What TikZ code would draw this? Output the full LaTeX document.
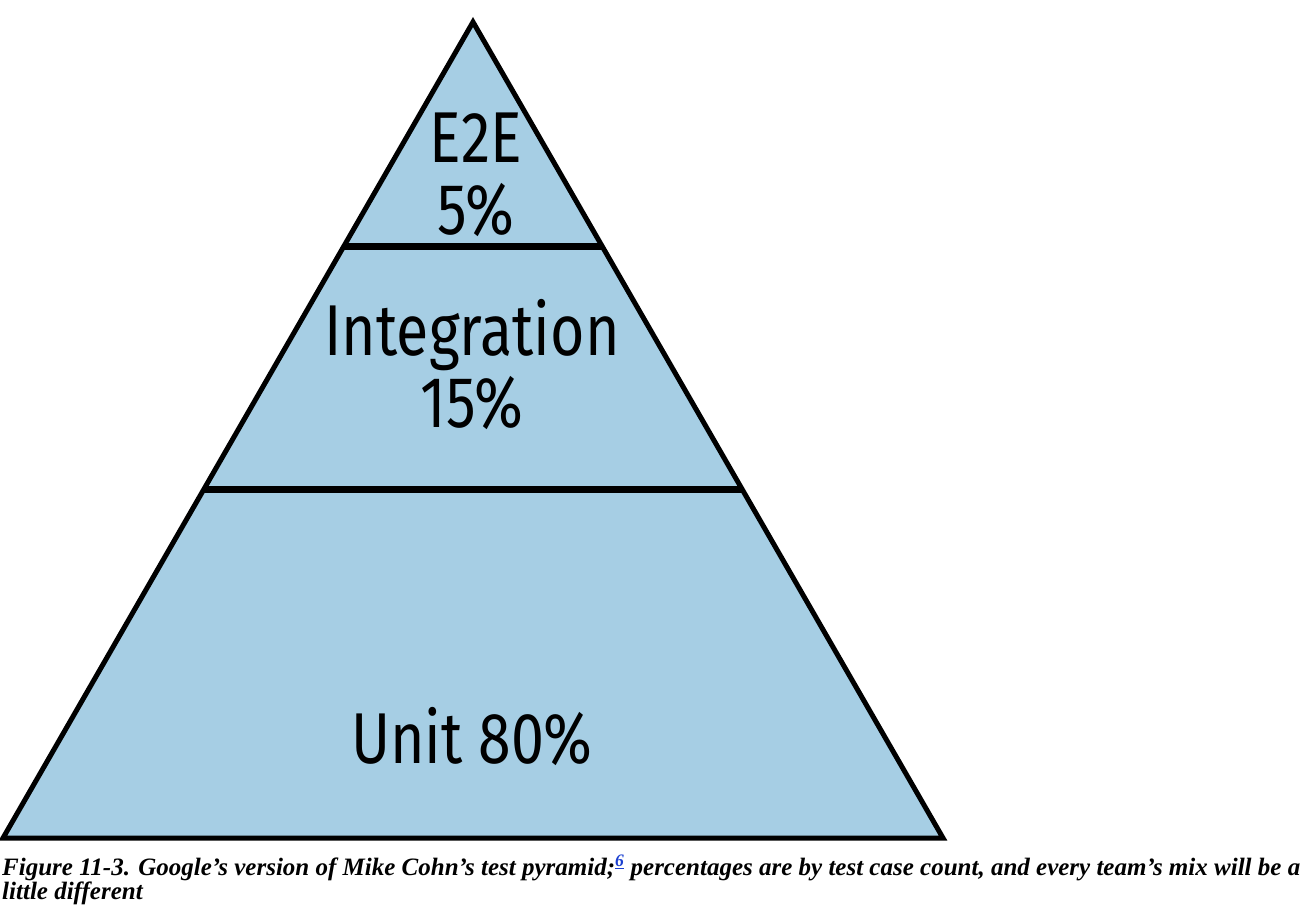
\documentclass[tikz,border=0pt]{standalone}
\usepackage{fontspec}
\usepackage{xcolor}
\usepackage{tikz}
\usetikzlibrary{calc}
\newfontfamily\layerfont[FakeStretch=0.82]{Fira Sans}
\newfontfamily\capfont{Liberation Serif}
\definecolor{pyrblue}{HTML}{A6CEE4}
\definecolor{footblue}{HTML}{1A3FD0}

\tikzset{
  layer/.style={font=\layerfont\fontsize{72}{72}\selectfont, align=center, inner sep=0pt},
  divider/.style={black, line width=7pt},
  caption/.style={font=\capfont\bfseries\itshape\fontsize{25}{23.5}\selectfont, align=left, inner sep=0pt},
}

\begin{document}
\begin{tikzpicture}[x=1pt, y=-1pt]
  \useasboundingbox (0,0) rectangle (1316,922);
  \coordinate (apex) at (473,22);
  \coordinate (bl) at (3,838);
  \coordinate (br) at (943,838);
  \fill[pyrblue] (apex) -- (bl) -- (br) -- cycle;
  \draw[divider] ($(apex)!0.2745!(bl)$) -- ($(apex)!0.2745!(br)$);
  \draw[divider] ($(apex)!0.5735!(bl)$) -- ($(apex)!0.5735!(br)$);
  \draw[black, line width=5pt] (apex) -- (bl) -- (br) -- cycle;
  \node[layer] (e2e) at (476,175) {E2E\\5\%};
  \node[layer] (integ) at (472,365) {Integration\\15\%};
  \node[layer] (unit) at (472,737) {Unit 80\%};
  \node[caption, anchor=north west] (cap) at (2,855) {Figure 11-3. Google’s version of Mike Cohn’s test pyramid;\textsuperscript{\color{footblue}\underline{6}} percentages are by test case count, and every team’s mix will be a\\little different};
\end{tikzpicture}
\end{document}
